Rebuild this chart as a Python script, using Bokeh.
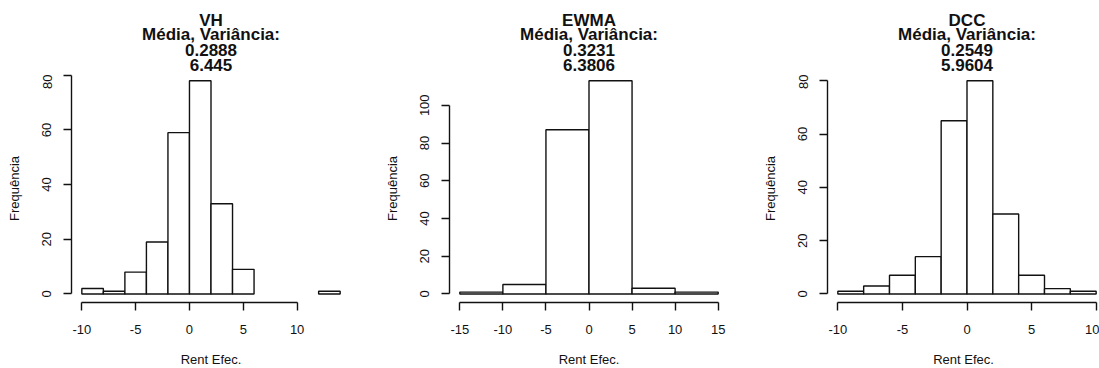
from bokeh.plotting import figure
from bokeh.layouts import row, column
from bokeh.models import FixedTicker, Label, Range1d, ColumnDataSource
from bokeh.embed import file_html
from bokeh.resources import INLINE

# ---------------- data ----------------
names = ["VH", "EWMA", "DCC"]
medias = ["0.2888", "0.3231", "0.2549"]
variancias = ["6.445", "6.3806", "5.9604"]

vh_edges = [-10, -8, -6, -4, -2, 0, 2, 4, 6, 8, 10, 12, 14]
vh_counts = [2, 1, 8, 19, 59, 78, 33, 9, 0, 0, 0, 1]

ewma_edges = [-15, -10, -5, 0, 5, 10, 15]
ewma_counts = [1, 5, 87, 113, 3, 1]

dcc_edges = [-10, -8, -6, -4, -2, 0, 2, 4, 6, 8, 10]
dcc_counts = [1, 3, 7, 14, 65, 80, 30, 7, 2, 1]

vh_xticks = [-10, -5, 0, 5, 10]
ewma_xticks = [-15, -10, -5, 0, 5, 10, 15]
dcc_xticks = [-10, -5, 0, 5, 10]

vh_yticks = [0, 20, 40, 60, 80]
ewma_yticks = [0, 20, 40, 60, 80, 100]
dcc_yticks = [0, 20, 40, 60, 80]

x_label = "Rent Efec."
y_label = "Frequência"
subtitle = "Média, Variância:"

# ---------------- layout constants ----------------
FONT = "Liberation Sans"
TOTAL_H = 368
STRIP = 74            # height of the title strip (main frame starts here)
R_TOP = 71.7          # top of the R plot region (px from top)
BOTTOM = 66
R_BOTTOM = TOTAL_H - BOTTOM
LEFT = 71
FULL_FRAME_W = 279
MAIN_FRAME_H = TOTAL_H - STRIP - BOTTOM
panel_widths = [378, 378, 343]
title_centers_px = [19.6, 34.3, 49.4, 64.2]  # from canvas top
INK = "#111111"


def base_fig(frame_w, frame_h, xr, yr, right_border, bottom, axes=True):
    kw = {}
    if not axes:
        kw = dict(x_axis_location=None, y_axis_location=None)
    p = figure(frame_width=frame_w, frame_height=frame_h, x_range=xr, y_range=yr,
               title=None, output_backend="svg", toolbar_location=None,
               min_border_left=LEFT, min_border_right=right_border,
               min_border_top=0, min_border_bottom=bottom, **kw)
    p.outline_line_color = None
    p.grid.visible = False
    p.background_fill_color = "white"
    p.border_fill_color = "white"
    return p


def make_panel(name, media, var, edges, counts, xt, yt, width):
    span = edges[-1] - edges[0]
    x_lo = edges[0] - 0.04 * span
    x_hi = edges[-1] + 0.04 * span
    ymax = max(counts)
    y_lo = -0.04 * ymax
    y_hi = 1.04 * ymax
    per_px = (y_hi - y_lo) / (R_BOTTOM - R_TOP)
    y_end = max(y_hi - (STRIP - R_TOP) * per_px, yt[-1] + 0.05)

    right_border = width - LEFT - FULL_FRAME_W
    frame_w = FULL_FRAME_W
    x_end = x_hi
    if right_border < 0:
        frame_w = width - LEFT
        x_end = x_lo + frame_w * (x_hi - x_lo) / FULL_FRAME_W
        right_border = 0

    # ---- title strip ----
    t = base_fig(frame_w, STRIP, Range1d(x_lo, x_end), Range1d(0, STRIP), right_border, 0, axes=False)
    xc = (edges[0] + edges[-1]) / 2
    for text, cpx in zip([name, subtitle, media, var], title_centers_px):
        t.add_layout(Label(x=xc, y=STRIP - cpx, text=text, text_align="center",
                           text_baseline="middle", text_font=FONT,
                           text_font_size="17px", text_font_style="bold",
                           text_color=INK))

    # ---- histogram ----
    p = base_fig(frame_w, MAIN_FRAME_H, Range1d(x_lo, x_end), Range1d(y_lo, y_end), right_border, BOTTOM)
    left = [edges[i] for i in range(len(counts)) if counts[i] > 0]
    right = [edges[i + 1] for i in range(len(counts)) if counts[i] > 0]
    top = [c for c in counts if c > 0]
    src = ColumnDataSource(dict(left=left, right=right, top=top, bottom=[0] * len(top)))
    p.quad(left="left", right="right", top="top", bottom="bottom", source=src,
           fill_color="white", line_color=INK, line_width=1.4)

    for ax, ticks in ((p.xaxis, xt), (p.yaxis, yt)):
        ax.ticker = FixedTicker(ticks=ticks)
        ax.major_label_overrides = {v: str(v) for v in ticks}
        ax.bounds = (ticks[0], ticks[-1])
        ax.major_tick_out = 8
        ax.major_tick_in = 0
        ax.minor_tick_line_color = None
        ax.axis_line_color = INK
        ax.axis_line_width = 1.4
        ax.major_tick_line_color = INK
        ax.major_tick_line_width = 1.4
        ax.major_label_text_font = FONT
        ax.major_label_text_font_size = "13px"
        ax.major_label_text_color = INK
        ax.axis_label_text_font = FONT
        ax.axis_label_text_font_size = "13px"
        ax.axis_label_text_font_style = "normal"
        ax.axis_label_text_color = INK

    p.xaxis.axis_label = x_label
    p.xaxis.major_label_standoff = 14
    p.xaxis.axis_label_standoff = 15
    p.yaxis.axis_label = y_label
    p.yaxis.major_label_orientation = "vertical"
    p.yaxis.major_label_standoff = 12
    p.yaxis.axis_label_standoff = 18
    return column(t, p, spacing=0)


panels = [
    make_panel(names[0], medias[0], variancias[0], vh_edges, vh_counts, vh_xticks, vh_yticks, panel_widths[0]),
    make_panel(names[1], medias[1], variancias[1], ewma_edges, ewma_counts, ewma_xticks, ewma_yticks, panel_widths[1]),
    make_panel(names[2], medias[2], variancias[2], dcc_edges, dcc_counts, dcc_xticks, dcc_yticks, panel_widths[2]),
]

layout = row(*panels, spacing=0)
open("out.html", "w").write(file_html(layout, INLINE))
